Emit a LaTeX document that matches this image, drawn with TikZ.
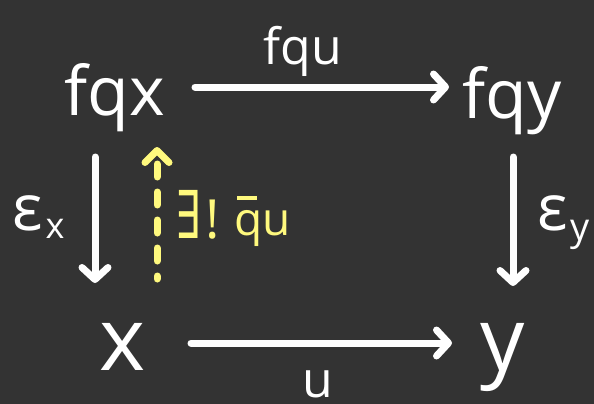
\documentclass[tikz,border=0pt]{standalone}
\usepackage{fontspec}
\setmainfont{Open Sans}
\newfontfamily\symfont{DejaVu Sans}
\usetikzlibrary{arrows.meta}
\definecolor{bg}{HTML}{333333}
\definecolor{hl}{HTML}{FFF97E}
\newcommand{\fs}[1]{\fontsize{#1}{#1}\selectfont}
\begin{document}
\begin{tikzpicture}[x=1pt,y=-1pt,
  lbl/.style={text=white, inner sep=0pt, anchor=base},
  ylbl/.style={text=hl, inner sep=0pt, anchor=base west},
  arr/.style={draw=white, line width=7pt, line cap=round,
    -{Straight Barb[length=12pt,width=26pt,round]}},
  yarr/.style={draw=hl, line width=7pt, line cap=round,
    dash pattern=on 13pt off 15pt, dash phase=10pt,
    -{Straight Barb[length=12pt,width=24pt,round]}}]
\fill[bg] (0,0) rectangle (594,404);
\useasboundingbox (0,0) rectangle (594,404);
% objects
\node[lbl] (fqx) at (115,115) {\fs{68}fqx};
\node[lbl] (fqy) at (512,118) {\fs{68}fqy};
\node[lbl] (x) at (123,370) {\fs{88}x};
\node[lbl] (y) at (503,370) {\fs{88}y};
% labels
\node[lbl] (fqu) at (303,65) {\fs{50}fqu};
\node[lbl] (u) at (318,397) {\fs{50}u};
\node[lbl, anchor=base west] (ex) at (12,230) {\fs{64}ε\hspace{3pt}\raisebox{-8pt}{\fs{36}x}};
\node[lbl, anchor=base west] (ey) at (537,230) {\fs{64}ε\hspace{3pt}\raisebox{-10pt}{\fs{38}y}};
\node[ylbl] (ex1) at (175,238) {{\symfont\fs{66}\scalebox{0.6}[1]{∃}}\hspace{5pt}{\fs{54}!}};
\node[ylbl] (qu) at (234,235) {\fs{46}\rlap{\hspace{3pt}\raisebox{35pt}{\rule{20pt}{4pt}}}qu};
% arrow end points
\coordinate (t1) at (195,87);
\coordinate (t2) at (449,87);
\coordinate (b1) at (191,343);
\coordinate (b2) at (452,343);
\coordinate (l1) at (95,157);
\coordinate (l2) at (95,283);
\coordinate (r1) at (513,157);
\coordinate (r2) at (513,286);
\coordinate (d1) at (157,279);
\coordinate (d2) at (157,147);
% connectors
\draw[arr] (t1) -- (t2);
\draw[arr] (b1) -- (b2);
\draw[arr] (l1) -- (l2);
\draw[arr] (r1) -- (r2);
\draw[yarr] (d1) -- (d2);
\end{tikzpicture}
\end{document}
